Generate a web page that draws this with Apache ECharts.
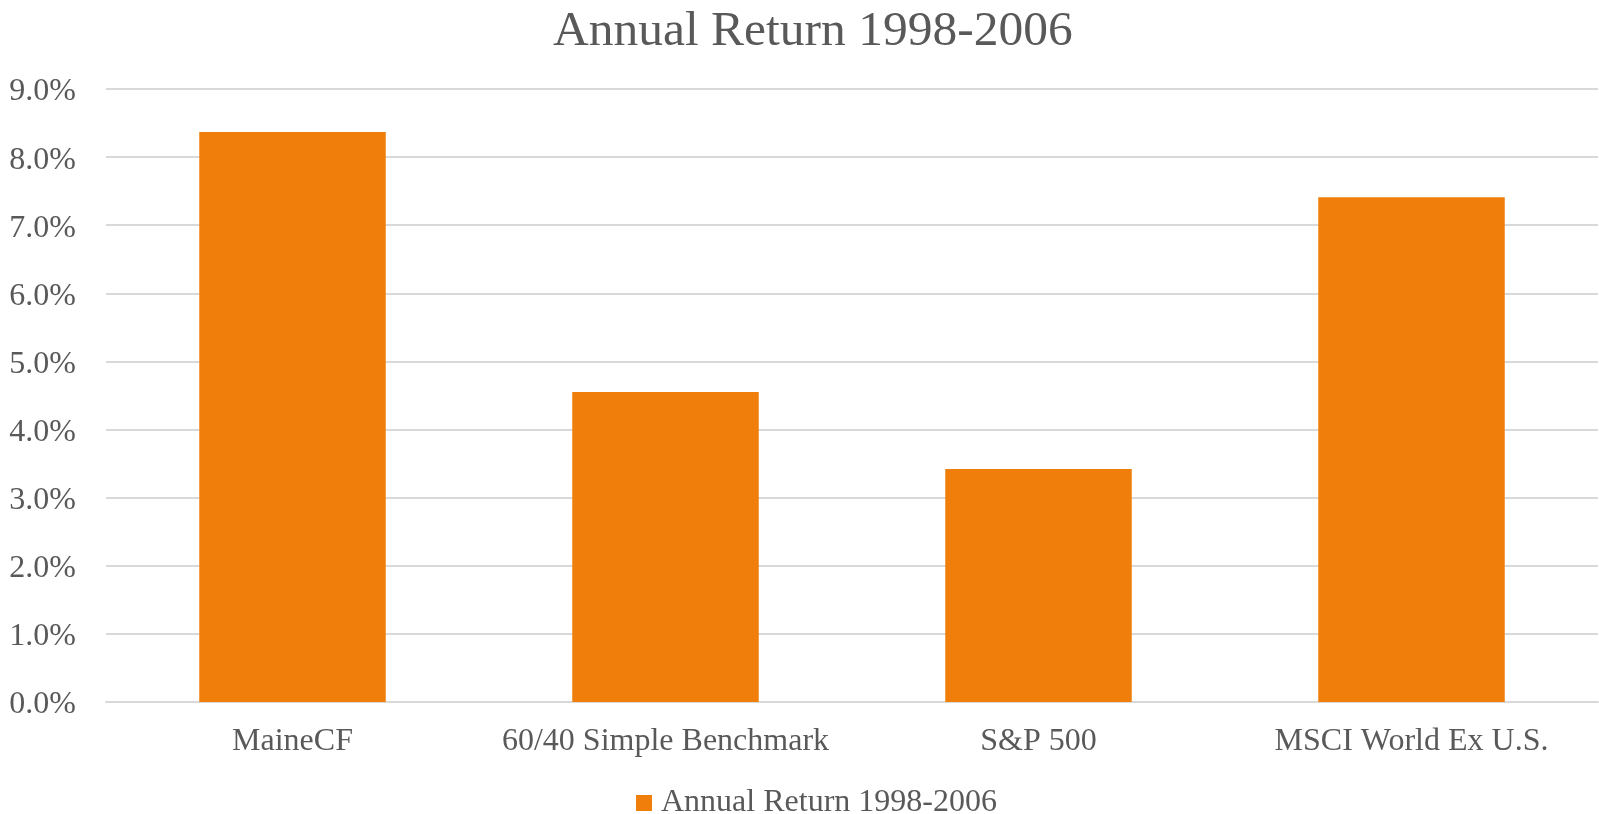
<!DOCTYPE html>
<html>
<head>
<meta charset="utf-8">
<script src="https://cdn.jsdelivr.net/npm/echarts@6/dist/echarts.min.js"></script>
<style>
  html, body { margin: 0; padding: 0; background: #fff; }
  #chart { width: 1599px; height: 814px; }
</style>
</head>
<body>
<div id="chart"></div>
<script>
var categories = ['MaineCF', '60/40 Simple Benchmark', 'S&P 500', 'MSCI World Ex U.S.'];
var annualReturn = [8.37, 4.55, 3.42, 7.41];
var seriesName = 'Annual Return 1998-2006';

var chartDom = document.getElementById('chart');
var myChart = echarts.init(chartDom);
var font = '"Liberation Serif", "Times New Roman", serif';

var option = {
  animation: false,
  title: {
    text: 'Annual Return 1998-2006',
    left: 548,
    top: 2,
    textStyle: { fontFamily: font, fontSize: 49.5, fontWeight: 'normal', color: '#595959' }
  },
  legend: {
    data: [seriesName],
    left: 631,
    top: 782,
    icon: 'rect',
    itemWidth: 16,
    itemHeight: 16,
    itemGap: 10,
    textStyle: { fontFamily: font, fontSize: 32, color: '#595959', padding: [0, 0, 0, 4] }
  },
  grid: { left: 106, right: 1, top: 89, bottom: 112 },
  xAxis: {
    type: 'category',
    data: categories,
    axisLine: { lineStyle: { color: '#D9D9D9', width: 2 } },
    axisTick: { show: false },
    axisLabel: { interval: 0, fontFamily: font, fontSize: 32, color: '#595959', margin: 24 }
  },
  yAxis: {
    type: 'value',
    min: 0,
    max: 9,
    interval: 1,
    axisLine: { show: false },
    axisTick: { show: false },
    splitLine: { lineStyle: { color: '#D9D9D9', width: 2 } },
    axisLabel: {
      fontFamily: font, fontSize: 32, color: '#595959', margin: 30,
      verticalAlign: 'top',
      lineHeight: 6,
      formatter: function (v) { return v.toFixed(1) + '%'; }
    }
  },
  series: [{
    name: seriesName,
    type: 'bar',
    data: annualReturn,
    barWidth: '50%',
    itemStyle: { color: '#EF7F0A' }
  }]
};

myChart.setOption(option);
</script>
</body>
</html>
